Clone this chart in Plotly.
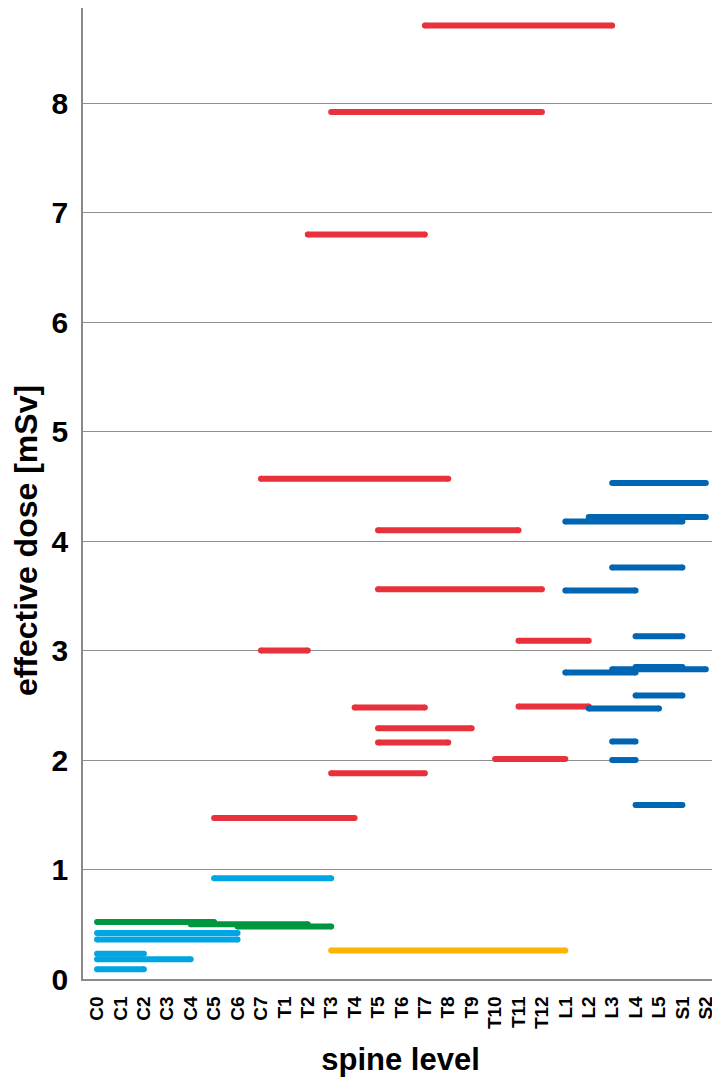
import plotly.graph_objects as go

levels = ["C0", "C1", "C2", "C3", "C4", "C5", "C6", "C7",
          "T1", "T2", "T3", "T4", "T5", "T6", "T7", "T8", "T9", "T10", "T11", "T12",
          "L1", "L2", "L3", "L4", "L5", "S1", "S2"]

# red segments
red_start = ["T7", "T3", "T2", "C7", "T5", "T5", "C7", "T11", "T4", "T11", "T5", "T5", "T10", "T3", "C5"]
red_end   = ["L3", "T12", "T7", "T8", "T11", "T12", "T2", "L2", "T7", "L2", "T9", "T8", "L1", "T7", "T4"]
red_dose  = [8.71, 7.92, 6.80, 4.57, 4.10, 3.56, 3.00, 3.09, 2.48, 2.49, 2.29, 2.16, 2.01, 1.88, 1.47]

# dark blue segments
blue_start = ["L3", "L2", "L1", "L3", "L1", "L4", "L1", "L3", "L4", "L4", "L2", "L3", "L3", "L4"]
blue_end   = ["S2", "S2", "S1", "S1", "L4", "S1", "L4", "S2", "S1", "S1", "L5", "L4", "L4", "S1"]
blue_dose  = [4.53, 4.22, 4.18, 3.76, 3.55, 3.13, 2.80, 2.83, 2.85, 2.59, 2.47, 2.17, 2.00, 1.59]

# light blue segments
lblue_start = ["C5", "C0", "C0", "C0", "C0", "C0"]
lblue_end   = ["T3", "C6", "C6", "C2", "C4", "C2"]
lblue_dose  = [0.92, 0.42, 0.36, 0.23, 0.18, 0.09]

# green segments
green_start = ["C0", "C4", "C6"]
green_end   = ["C5", "T2", "T3"]
green_dose  = [0.52, 0.50, 0.48]

# orange segments
orange_start = ["T3"]
orange_end   = ["L1"]
orange_dose  = [0.26]

y_ticks = [0, 1, 2, 3, 4, 5, 6, 7, 8]
x_title = "spine level"
y_title = "effective dose [mSv]"

groups = [
    (green_start, green_end, green_dose, "#00963F"),
    (lblue_start, lblue_end, lblue_dose, "#00A5E3"),
    (orange_start, orange_end, orange_dose, "#FBB400"),
    (red_start, red_end, red_dose, "#E8313A"),
    (blue_start, blue_end, blue_dose, "#0065B3"),
]

fig = go.Figure()
for starts, ends, doses, color in groups:
    for s, e, d in zip(starts, ends, doses):
        fig.add_trace(go.Scatter(
            x=[s, e], y=[d, d], mode="lines+markers",
            line=dict(color=color, width=6),
            marker=dict(color=color, size=6, line=dict(width=0)),
            showlegend=False, hoverinfo="skip", cliponaxis=False,
        ))

font_family = "Liberation Sans, Arial, sans-serif"

# page body has an 8px margin, so the figure is sized to fill the rest of the window
fig.update_layout(
    width=712, height=1071,
    margin=dict(l=75, r=2, t=0, b=100),
    plot_bgcolor="white", paper_bgcolor="white",
    showlegend=False,
    font=dict(family=font_family, color="black"),
)

fig.update_xaxes(
    type="category", categoryorder="array", categoryarray=levels,
    tickvals=levels, ticktext=levels,
    range=[-0.6, 26.52],
    tickangle=-90,
    tickfont=dict(family=font_family, size=19, weight="bold", color="black"),
    ticks="outside", ticklen=8, tickcolor="rgba(0,0,0,0)",
    showgrid=False, zeroline=False,
    showline=True, linecolor="#8a8a8a", linewidth=1.5,
    title=dict(text=x_title, font=dict(family=font_family, size=31, weight="bold", color="black"), standoff=20),
    automargin=False,
)

fig.update_yaxes(
    range=[0, 8.87],
    tickvals=y_ticks,
    tickfont=dict(family=font_family, size=30, weight="bold", color="black"),
    ticks="outside", ticklen=7, tickcolor="rgba(0,0,0,0)",
    showgrid=True, gridcolor="#8f8f8f", gridwidth=1,
    zeroline=False,
    showline=True, linecolor="#8a8a8a", linewidth=1.5,
    automargin=False,
)

# y-axis title placed as a rotated annotation (it sits below the plot's centre in the original)
fig.add_annotation(
    text=y_title, textangle=-90, showarrow=False,
    xref="paper", x=0, xanchor="center", xshift=-57,
    yref="y", y=4.0, yanchor="middle",
    borderpad=0,
    font=dict(family=font_family, size=32, weight="bold", color="black"),
)

fig.write_html("out.html")
